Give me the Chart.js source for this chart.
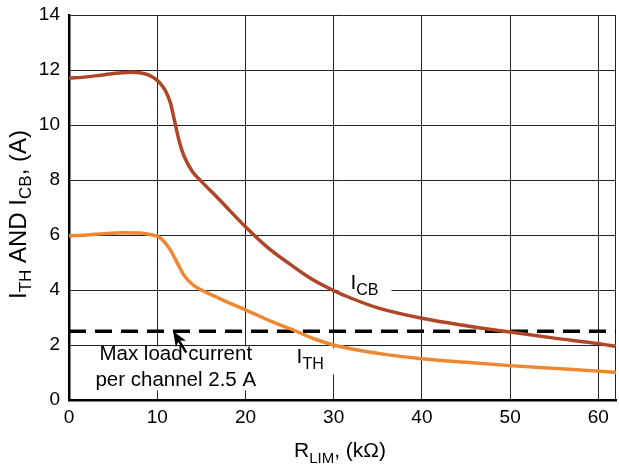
<!DOCTYPE html>
<html><head><meta charset="utf-8">
<script src="https://cdn.jsdelivr.net/npm/chart.js@4.4.0/dist/chart.umd.min.js"></script>
<style>html,body{margin:0;padding:0;background:#fff;}canvas{display:block;}</style>
</head><body>
<canvas id="c" width="619" height="466"></canvas>
<script>
// ---- data ----
const icbX = [0, 2, 4, 6, 7, 8, 9, 10, 10.5, 11, 11.5, 12, 12.5, 13, 14, 15, 17, 20, 22.5, 25, 27.5, 30, 32, 35, 40, 45, 50, 55, 60, 62];
const icbY = [11.7, 11.75, 11.83, 11.9, 11.92, 11.9, 11.82, 11.62, 11.45, 11.2, 10.8, 10.1, 9.4, 8.9, 8.3, 7.95, 7.3, 6.3, 5.55, 4.95, 4.4, 3.98, 3.7, 3.35, 2.97, 2.7, 2.47, 2.25, 2.05, 1.95];
const ithX = [0, 2, 4, 6, 8, 9, 10, 10.5, 11, 11.5, 12, 12.5, 13, 14, 15, 16, 18, 20, 23, 25, 28, 30, 33, 36, 40, 45, 50, 55, 60, 62];
const ithY = [5.97, 6.0, 6.05, 6.08, 6.07, 6.03, 5.95, 5.85, 5.68, 5.45, 5.15, 4.85, 4.55, 4.2, 4.0, 3.85, 3.55, 3.28, 2.85, 2.6, 2.2, 2.0, 1.8, 1.65, 1.5, 1.37, 1.25, 1.15, 1.05, 1.0];
const limitX = [0, 62];
const limitY = [2.5, 2.5];
const xTicks = [0, 10, 20, 30, 40, 50, 60];
const yTicks = [0, 2, 4, 6, 8, 10, 12, 14];
const xRange = [0, 62];
const yRange = [0, 14];
const arrowTip = [11.8, 2.5];
const arrowTail = [13.3, 1.72];
const labelICB = [31.9, 4.04];
const labelITH = [25.8, 1.34];
const labelMax = [12.1, 1.66];

const FONT = '"Liberation Sans", Arial, Helvetica, sans-serif';
const toPts = (xs, ys) => xs.map((x, i) => ({x: x, y: ys[i]}));

function drawRich(ctx, parts, x, y, main, sub, drop) {
  let cx = x;
  for (const p of parts) {
    ctx.font = (p[1] ? sub : main) + 'px ' + FONT;
    ctx.fillText(p[0], cx, y + (p[1] ? drop : 0));
    cx += ctx.measureText(p[0]).width;
  }
  return cx - x;
}
function richWidth(ctx, parts, main, sub) {
  let w = 0;
  for (const p of parts) { ctx.font = (p[1] ? sub : main) + 'px ' + FONT; w += ctx.measureText(p[0]).width; }
  return w;
}

const annot = {
  id: 'annot',
  beforeDatasetsDraw(chart) {
    const {ctx, chartArea: a, scales: {x, y}} = chart;
    ctx.save();
    ctx.strokeStyle = '#222'; ctx.lineWidth = 1;
    const rx = Math.round(a.right) - 0.5;
    ctx.beginPath(); ctx.moveTo(rx, a.top); ctx.lineTo(rx, a.bottom); ctx.stroke();
    ctx.fillStyle = '#fff';
    let px = x.getPixelForValue(labelICB[0]), py = y.getPixelForValue(labelICB[1]);
    ctx.fillRect(px - 12, py - 14, 53, 20);
    px = x.getPixelForValue(labelITH[0]); py = y.getPixelForValue(labelITH[1]);
    ctx.fillRect(px - 4, py - 15, 44, 26);
    px = x.getPixelForValue(labelMax[0]); py = y.getPixelForValue(labelMax[1]);
    ctx.fillRect(px - 84, py - 8, 168, 44);
    ctx.restore();
  },
  afterDatasetsDraw(chart) {
    const {ctx, scales: {x, y}} = chart;
    ctx.save();
    ctx.fillStyle = '#000';
    ctx.textBaseline = 'alphabetic';
    ctx.textAlign = 'left';
    drawRich(ctx, [['I', 0], ['CB', 1]], x.getPixelForValue(labelICB[0]), y.getPixelForValue(labelICB[1]), 21, 16, 6);
    drawRich(ctx, [['I', 0], ['TH', 1]], x.getPixelForValue(labelITH[0]), y.getPixelForValue(labelITH[1]), 21, 16, 6);
    ctx.font = '20.5px ' + FONT;
    ctx.textAlign = 'center';
    ctx.textBaseline = 'middle';
    const mx = x.getPixelForValue(labelMax[0]), my = y.getPixelForValue(labelMax[1]);
    ctx.fillText('Max load current', mx, my);
    ctx.fillText('per channel 2.5 A', mx, my + 26);
    // arrow
    const tx = x.getPixelForValue(arrowTip[0]), ty = y.getPixelForValue(arrowTip[1]);
    const ex = x.getPixelForValue(arrowTail[0]), ey = y.getPixelForValue(arrowTail[1]);
    const dx = ex - tx, dy = ey - ty, L = Math.hypot(dx, dy);
    const ux = dx / L, uy = dy / L;
    const hl = 15, hw = 6;
    const bx = tx + ux * hl, by = ty + uy * hl;
    ctx.beginPath();
    ctx.moveTo(tx, ty);
    ctx.lineTo(bx - uy * hw, by + ux * hw);
    ctx.lineTo(tx + ux * (hl - 4), ty + uy * (hl - 4));
    ctx.lineTo(bx + uy * hw, by - ux * hw);
    ctx.closePath();
    ctx.fill();
    ctx.strokeStyle = '#000'; ctx.lineWidth = 2.5;
    ctx.beginPath(); ctx.moveTo(tx + ux * 8, ty + uy * 8); ctx.lineTo(ex, ey); ctx.stroke();
    ctx.restore();
  },
  afterDraw(chart) {
    const {ctx} = chart;
    ctx.save();
    ctx.fillStyle = '#000';
    ctx.textBaseline = 'alphabetic';
    ctx.textAlign = 'left';
    const xp = [['R', 0], ['LIM', 1], [', (k\u03A9)', 0]];
    const xw = richWidth(ctx, xp, 21, 15);
    drawRich(ctx, xp, 340 - xw / 2, 456.5, 21, 15, 6);
    const yp = [['I', 0], ['TH', 1], [' AND ', 0], ['I', 0], ['CB', 1], [', (A)', 0]];
    const yw = richWidth(ctx, yp, 24, 17);
    ctx.translate(25.5, 0);
    ctx.rotate(-Math.PI / 2);
    drawRich(ctx, yp, -(214.5 + yw / 2), 0, 24, 17, 5);
    ctx.restore();
  }
};

new Chart(document.getElementById('c'), {
  type: 'line',
  data: {
    datasets: [
      {label: 'ICB', data: toPts(icbX, icbY), borderColor: '#AE4628', borderWidth: 3.5, pointRadius: 0, cubicInterpolationMode: 'monotone', fill: false},
      {label: 'ITH', data: toPts(ithX, ithY), borderColor: '#EE8732', borderWidth: 3.5, pointRadius: 0, cubicInterpolationMode: 'monotone', fill: false},
      {label: 'limit', data: toPts(limitX, limitY), borderColor: '#000', borderWidth: 3.5, borderDash: [17, 9], pointRadius: 0, tension: 0, fill: false}
    ]
  },
  options: {
    responsive: false,
    animation: false,
    devicePixelRatio: 1,
    layout: {padding: {top: 15, right: 3, left: 0, bottom: 0}},
    plugins: {legend: {display: false}, tooltip: {enabled: false}},
    scales: {
      x: {
        type: 'linear', min: xRange[0], max: xRange[1],
        afterBuildTicks: s => { s.ticks = xTicks.map(v => ({value: v})); },
        afterFit: s => { s.height = 66; s.paddingLeft = 0; s.paddingRight = 0; },
        grid: {color: '#222', lineWidth: 1, drawTicks: false},
        border: {color: '#000', width: 2.5},
        ticks: {color: '#000', font: {family: FONT, size: 19}, padding: 6, maxRotation: 0}
      },
      y: {
        type: 'linear', min: yRange[0], max: yRange[1],
        afterBuildTicks: s => { s.ticks = yTicks.map(v => ({value: v})); },
        afterFit: s => { s.width = 69; s.paddingTop = 0; s.paddingBottom = 0; },
        grid: {color: '#222', lineWidth: 1, drawTicks: false},
        border: {color: '#000', width: 2.5},
        ticks: {color: '#000', font: {family: FONT, size: 19}, padding: 9}
      }
    }
  },
  plugins: [annot]
});
</script>
</body></html>
